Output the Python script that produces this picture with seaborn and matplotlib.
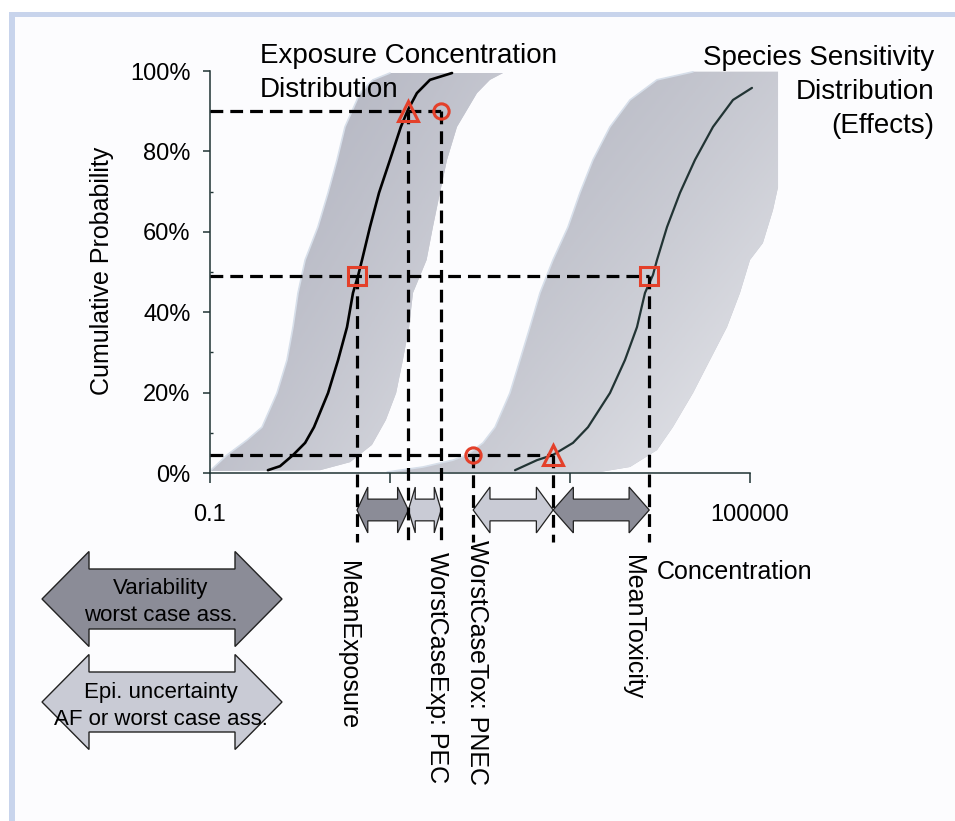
import numpy as np
import matplotlib
matplotlib.use('Agg')
import matplotlib.pyplot as plt
from matplotlib.patches import Polygon, Rectangle
from matplotlib.colors import LinearSegmentedColormap
from matplotlib.ticker import FixedLocator, NullLocator
import seaborn as sns

# --- values -------------------------------------------------------------
# exposure concentration distribution (mean curve)
ecd_conc = [0.44, 0.60, 0.84, 1.14, 1.43, 2.05, 2.65, 3.33, 3.88, 4.41,
            4.89, 5.99, 7.55, 10.0, 13.2, 15.8, 19.9, 27.8, 48.9]
ecd_prob = [0.7, 1.7, 4.5, 7.5, 11.4, 19.9, 28.1, 36.3, 44.8, 49.0,
            53.0, 61.2, 69.7, 77.9, 86.1, 90.3, 94.5, 97.8, 99.5]

# ECD uncertainty band: left edge (bottom -> top), right edge (top -> bottom)
ecd_left_conc = [0.10, 0.155, 0.258, 0.378, 0.555, 0.717, 0.836, 0.95, 1.14,
                 1.58, 2.05, 2.58, 3.16, 4.64, 6.47, 10.0]
ecd_left_prob = [0.5, 4.5, 8.2, 11.4, 19.9, 28.1, 36.3, 44.8, 53.0,
                 61.2, 69.7, 77.9, 86.1, 94.5, 97.8, 99.5]
ecd_right_conc = [180, 129, 92.6, 55.5, 43.0, 35.9, 30.0, 25.5, 18.0, 16.3,
                  13.9, 11.7, 9.0, 6.3, 3.6, 1.67]
ecd_right_prob = [99.5, 97.8, 94.5, 86.1, 77.9, 69.7, 61.2, 53.0, 44.8, 36.3,
                  28.1, 19.9, 13.2, 7.0, 2.7, 0.7]

# species sensitivity distribution (mean curve)
ssd_conc = [245, 430, 647, 1080, 1585, 2780, 4080, 5550, 6810, 8360,
            9260, 11970, 16680, 24480, 38800, 64700, 105200]
ssd_prob = [0.7, 3.2, 4.5, 7.5, 11.4, 19.9, 28.1, 36.3, 44.8, 49.3,
            53.0, 61.2, 69.7, 77.9, 86.1, 92.8, 95.8]

# SSD uncertainty band
ssd_left_conc = [9.3, 23.3, 50, 71.7, 108, 147, 215, 278, 359, 464, 647,
                 950, 1290, 1800, 2780, 4640, 9260, 23270]
ssd_left_prob = [0.25, 1.5, 3.2, 4.5, 7.5, 11.4, 19.9, 28.1, 36.3, 44.8, 53.0,
                 61.2, 69.7, 77.9, 86.1, 92.8, 97.8, 99.8]
ssd_right_conc = [204800, 204800, 180000, 139000, 100000, 77400, 55500, 35900,
                  23270, 13900, 9260, 4640, 2150]
ssd_right_prob = [99.8, 71.1, 65.4, 57.2, 53.0, 44.8, 36.3, 28.1,
                  19.9, 11.4, 5.7, 1.5, 0.25]

# reference points
mean_exposure = 4.3
worst_case_exp = 16.0
pec = 37.0
pnec = 84.0
worst_case_tox = 650.0
mean_toxicity = 7600.0
p_high, p_mid, p_low = 90.0, 49.0, 4.5

point_labels = ['MeanExposure', 'WorstCaseExp: PEC', 'WorstCaseTox: PNEC', 'MeanToxicity']
label_conc = [mean_exposure, pec, pnec, mean_toxicity]

RED = '#e4402a'
W, H = 955, 821


def fig_xy(x, y):
    return x / W, 1 - y / H


def double_arrow(x0, x1, yc, head, hh, hs):
    return [(x0, yc), (x0 + head, yc + hh), (x0 + head, yc + hs),
            (x1 - head, yc + hs), (x1 - head, yc + hh), (x1, yc),
            (x1 - head, yc - hh), (x1 - head, yc - hs),
            (x0 + head, yc - hs), (x0 + head, yc - hh)]


def shade_band(ax, patch, dark, light, mix):
    verts = ax.transAxes.inverted().transform(ax.transData.transform(patch.get_xy()))
    x0, y0 = verts.min(axis=0)
    x1, y1 = verts.max(axis=0)
    gx, gy = np.meshgrid(np.linspace(0, 1, 400), np.linspace(0, 1, 400))
    t = mix * (gx - x0) / (x1 - x0) + (1 - mix) * (y1 - gy) / (y1 - y0)
    t = np.clip(t, 0, 1) ** 1.6
    cmap = LinearSegmentedColormap.from_list('band', [dark, light])
    im = ax.imshow(t, extent=(0, 1, 0, 1), origin='lower', transform=ax.transAxes,
                   cmap=cmap, vmin=0, vmax=1, aspect='auto', zorder=1,
                   interpolation='bilinear')
    im.set_clip_path(patch)


sns.set_style('ticks')
plt.rcParams['font.family'] = ['Liberation Sans', 'DejaVu Sans']
plt.rcParams['text.color'] = 'black'
plt.rcParams['xtick.labelcolor'] = 'black'
plt.rcParams['ytick.labelcolor'] = 'black'

fig = plt.figure(figsize=(W / 100, H / 100), dpi=100)
fig.patch.set_facecolor('white')
fig.patches.append(Rectangle((9 / W, 0), 1, 1 - 12 / H, transform=fig.transFigure,
                             facecolor='#c8d4ec', edgecolor='none', zorder=-3))
fig.patches.append(Rectangle((15 / W, 0), 1, 1 - 17 / H, transform=fig.transFigure,
                             facecolor='#fcfcfe', edgecolor='none', zorder=-2))

# axes box: 0.1 at x=210 px, one decade = 90 px; 0 % at y=473, 100 % at y=71
ax_left, ax_right = 204.6, 786.0
ax = fig.add_axes([ax_left / W, 1 - 473 / H, (ax_right - ax_left) / W, 402 / H])
ax.set_facecolor('none')
ax.set_xscale('log')
ax.set_xlim(10 ** -1.06, 10 ** 5.4)
ax.set_ylim(0, 100)
ax.set_autoscale_on(False)

# uncertainty bands
for lc, lp, rc, rp, dark, light in [
        (ecd_left_conc, ecd_left_prob, ecd_right_conc, ecd_right_prob, '#b2b4c0', '#e2e3e8'),
        (ssd_left_conc, ssd_left_prob, ssd_right_conc, ssd_right_prob, '#b4b6c1', '#eaebef')]:
    band = ax.fill(list(lc) + list(rc), list(lp) + list(rp),
                   facecolor='#c4c6cf', edgecolor='none', zorder=1)[0]
    shade_band(ax, band, dark, light, 0.55)
    ax.plot(lc, lp, color='#d7dfea', lw=1.2, zorder=2)

# mean curves
sns.lineplot(x=ecd_conc, y=ecd_prob, ax=ax, color='black', lw=1.9,
             sort=False, estimator=None, zorder=3)
sns.lineplot(x=ssd_conc, y=ssd_prob, ax=ax, color='#223434', lw=1.6,
             sort=False, estimator=None, zorder=3)

# dashed guide lines
y_end = -17.2
dash = dict(color='black', lw=2.3, ls=(0, (4, 2.2)), zorder=5, clip_on=False)
ax.plot([0.1, pec], [p_high, p_high], **dash)
ax.plot([0.1, mean_toxicity], [p_mid, p_mid], **dash)
ax.plot([0.1, worst_case_tox], [p_low, p_low], **dash)
for xc, yt in [(mean_exposure, p_mid), (worst_case_exp, p_high), (pec, p_high),
               (pnec, p_low), (worst_case_tox, p_low), (mean_toxicity, p_mid)]:
    ax.plot([xc, xc], [yt, y_end], **dash)

# markers
mk = dict(ls='none', mfc='none', mec=RED, mew=2.2, zorder=6, clip_on=False)
ax.plot([mean_exposure, mean_toxicity], [p_mid, p_mid], marker='s', ms=13, **mk)
ax.plot([worst_case_exp, worst_case_tox], [p_high, p_low], marker='^', ms=14, **mk)
ax.plot([pec, pnec], [p_high, p_low], marker='o', ms=11, **mk)

# arrows between the reference points (below the axis)
for a, b, fc in [(mean_exposure, worst_case_exp, '#8b8c97'),
                 (worst_case_exp, pec, '#c9cbd5'),
                 (pnec, worst_case_tox, '#c9cbd5'),
                 (worst_case_tox, mean_toxicity, '#8b8c97')]:
    la, lb = np.log10(a), np.log10(b)
    verts = double_arrow(la, lb, -9.2, 0.21 * (lb - la), 5.7, 2.7)
    verts = [(10 ** vx, vy) for vx, vy in verts]
    ax.add_patch(Polygon(verts, closed=True, facecolor=fc, edgecolor='#222222',
                         lw=0.9, zorder=4, clip_on=False))

# rotated point labels
offsets = [(-9, 19), (-4, 10), (4, -2), (-16, 13)]
for name, xc, (dx, dy) in zip(point_labels, label_conc, offsets):
    ax.annotate(name, xy=(xc, y_end), xycoords='data',
                xytext=(dx * 0.72, -dy * 0.72), textcoords='offset points',
                rotation=-90, ha='center', va='top', fontsize=18,
                annotation_clip=False)

# axes styling
for side in ['top', 'right']:
    ax.spines[side].set_visible(False)
ax.spines['left'].set_position(('data', 0.1))
ax.spines['left'].set_bounds(0, 100)
ax.spines['bottom'].set_bounds(0.1, 1e5)
for side in ['left', 'bottom']:
    ax.spines[side].set_color('#1f3333')
    ax.spines[side].set_linewidth(1.1)

ax.xaxis.set_major_locator(FixedLocator([0.1, 10, 1000, 1e5]))
ax.xaxis.set_minor_locator(NullLocator())
ax.set_xticklabels(['0.1', '', '', '100000'])
ax.yaxis.set_major_locator(FixedLocator([0, 20, 40, 60, 80, 100]))
ax.yaxis.set_minor_locator(FixedLocator([10, 30, 50, 70, 90]))
ax.set_yticklabels([f'{v}%' for v in [0, 20, 40, 60, 80, 100]])
ax.tick_params(axis='x', which='major', length=7, width=1.1, color='#1f3333',
               pad=15, labelsize=17)
ax.tick_params(axis='y', which='major', length=5, width=1.1, color='#1f3333',
               pad=9, labelsize=17)
ax.tick_params(axis='y', which='minor', length=2.5, width=1.0, color='#1f3333',
               direction='in')
ax.set_xlabel('')
ax.set_ylabel('')

# figure texts
fig.text(*fig_xy(102, 271), 'Cumulative Probability', rotation=90,
         ha='center', va='center', fontsize=18)
fig.text(*fig_xy(260, 63), 'Exposure Concentration', ha='left', va='baseline', fontsize=20)
fig.text(*fig_xy(260, 97), 'Distribution', ha='left', va='baseline', fontsize=20)
fig.text(*fig_xy(934, 65), 'Species Sensitivity', ha='right', va='baseline', fontsize=20)
fig.text(*fig_xy(934, 99), 'Distribution', ha='right', va='baseline', fontsize=20)
fig.text(*fig_xy(934, 133), '(Effects)', ha='right', va='baseline', fontsize=20)
fig.text(*fig_xy(657, 579), 'Concentration', ha='left', va='baseline', fontsize=18)

# legend arrows
for yc, fc, lines in [(599, '#8b8c97', [('Variability', 594), ('worst case ass.', 621)]),
                      (702, '#c9cbd5', [('Epi. uncertainty', 698), ('AF or worst case ass.', 725)])]:
    verts = [fig_xy(vx, vy) for vx, vy in double_arrow(42, 282, yc, 47, 47.5, 30)]
    fig.patches.append(Polygon(verts, closed=True, transform=fig.transFigure,
                               facecolor=fc, edgecolor='#222222', lw=1.0, zorder=2))
    for txt, yb in lines:
        fig.text(*fig_xy(161, yb), txt, ha='center', va='baseline', fontsize=16, zorder=3)

fig.savefig('out.png', dpi=100)
